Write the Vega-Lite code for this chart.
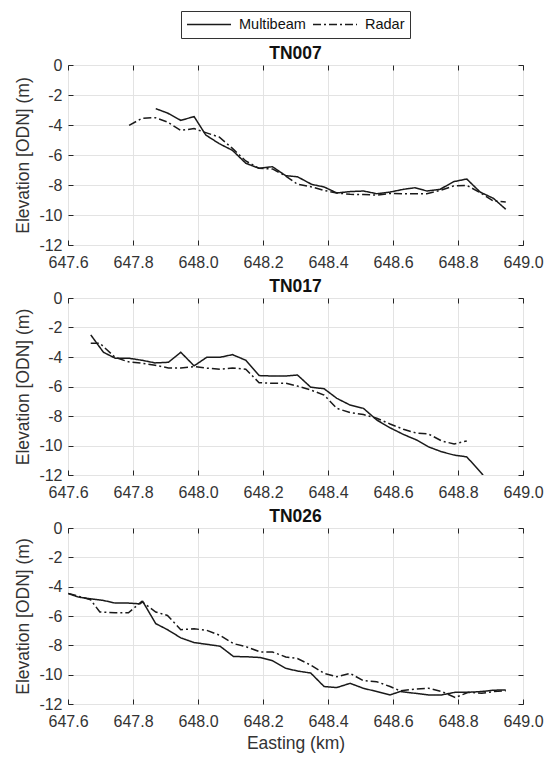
{
  "$schema": "https://vega.github.io/schema/vega-lite/v6.json",
  "padding": {"left": 14, "top": 10, "right": 10, "bottom": 1},
  "datasets": {
    "pts": [
      {"p":"TN007","s":"Multibeam","x":647.870,"y":-2.91},{"p":"TN007","s":"Multibeam","x":647.906,"y":-3.20},{"p":"TN007","s":"Multibeam","x":647.947,"y":-3.69},{"p":"TN007","s":"Multibeam","x":647.988,"y":-3.44},{"p":"TN007","s":"Multibeam","x":648.024,"y":-4.67},{"p":"TN007","s":"Multibeam","x":648.065,"y":-5.24},{"p":"TN007","s":"Multibeam","x":648.106,"y":-5.69},{"p":"TN007","s":"Multibeam","x":648.147,"y":-6.55},{"p":"TN007","s":"Multibeam","x":648.188,"y":-6.89},{"p":"TN007","s":"Multibeam","x":648.229,"y":-6.78},{"p":"TN007","s":"Multibeam","x":648.270,"y":-7.38},{"p":"TN007","s":"Multibeam","x":648.306,"y":-7.45},{"p":"TN007","s":"Multibeam","x":648.350,"y":-7.96},{"p":"TN007","s":"Multibeam","x":648.388,"y":-8.13},{"p":"TN007","s":"Multibeam","x":648.427,"y":-8.53},{"p":"TN007","s":"Multibeam","x":648.468,"y":-8.44},{"p":"TN007","s":"Multibeam","x":648.509,"y":-8.40},{"p":"TN007","s":"Multibeam","x":648.550,"y":-8.58},{"p":"TN007","s":"Multibeam","x":648.591,"y":-8.47},{"p":"TN007","s":"Multibeam","x":648.632,"y":-8.29},{"p":"TN007","s":"Multibeam","x":648.668,"y":-8.18},{"p":"TN007","s":"Multibeam","x":648.704,"y":-8.40},{"p":"TN007","s":"Multibeam","x":648.745,"y":-8.29},{"p":"TN007","s":"Multibeam","x":648.786,"y":-7.78},{"p":"TN007","s":"Multibeam","x":648.827,"y":-7.60},{"p":"TN007","s":"Multibeam","x":648.868,"y":-8.47},{"p":"TN007","s":"Multibeam","x":648.909,"y":-8.89},{"p":"TN007","s":"Multibeam","x":648.947,"y":-9.62},
      {"p":"TN007","s":"Radar","x":647.788,"y":-4.02},{"p":"TN007","s":"Radar","x":647.827,"y":-3.56},{"p":"TN007","s":"Radar","x":647.868,"y":-3.51},{"p":"TN007","s":"Radar","x":647.906,"y":-3.80},{"p":"TN007","s":"Radar","x":647.947,"y":-4.36},{"p":"TN007","s":"Radar","x":647.988,"y":-4.24},{"p":"TN007","s":"Radar","x":648.024,"y":-4.51},{"p":"TN007","s":"Radar","x":648.065,"y":-4.80},{"p":"TN007","s":"Radar","x":648.106,"y":-5.56},{"p":"TN007","s":"Radar","x":648.147,"y":-6.40},{"p":"TN007","s":"Radar","x":648.188,"y":-6.89},{"p":"TN007","s":"Radar","x":648.229,"y":-6.93},{"p":"TN007","s":"Radar","x":648.270,"y":-7.40},{"p":"TN007","s":"Radar","x":648.306,"y":-7.95},{"p":"TN007","s":"Radar","x":648.350,"y":-8.13},{"p":"TN007","s":"Radar","x":648.388,"y":-8.36},{"p":"TN007","s":"Radar","x":648.427,"y":-8.53},{"p":"TN007","s":"Radar","x":648.468,"y":-8.62},{"p":"TN007","s":"Radar","x":648.509,"y":-8.64},{"p":"TN007","s":"Radar","x":648.550,"y":-8.67},{"p":"TN007","s":"Radar","x":648.591,"y":-8.56},{"p":"TN007","s":"Radar","x":648.632,"y":-8.58},{"p":"TN007","s":"Radar","x":648.668,"y":-8.58},{"p":"TN007","s":"Radar","x":648.704,"y":-8.58},{"p":"TN007","s":"Radar","x":648.745,"y":-8.36},{"p":"TN007","s":"Radar","x":648.786,"y":-8.07},{"p":"TN007","s":"Radar","x":648.827,"y":-8.02},{"p":"TN007","s":"Radar","x":648.868,"y":-8.51},{"p":"TN007","s":"Radar","x":648.909,"y":-9.07},{"p":"TN007","s":"Radar","x":648.947,"y":-9.13},
      {"p":"TN017","s":"Multibeam","x":647.670,"y":-2.50},{"p":"TN017","s":"Multibeam","x":647.709,"y":-3.68},{"p":"TN017","s":"Multibeam","x":647.745,"y":-4.08},{"p":"TN017","s":"Multibeam","x":647.786,"y":-4.08},{"p":"TN017","s":"Multibeam","x":647.827,"y":-4.22},{"p":"TN017","s":"Multibeam","x":647.868,"y":-4.40},{"p":"TN017","s":"Multibeam","x":647.909,"y":-4.36},{"p":"TN017","s":"Multibeam","x":647.947,"y":-3.68},{"p":"TN017","s":"Multibeam","x":647.988,"y":-4.60},{"p":"TN017","s":"Multibeam","x":648.027,"y":-4.02},{"p":"TN017","s":"Multibeam","x":648.068,"y":-4.02},{"p":"TN017","s":"Multibeam","x":648.106,"y":-3.84},{"p":"TN017","s":"Multibeam","x":648.147,"y":-4.22},{"p":"TN017","s":"Multibeam","x":648.188,"y":-5.26},{"p":"TN017","s":"Multibeam","x":648.229,"y":-5.29},{"p":"TN017","s":"Multibeam","x":648.270,"y":-5.29},{"p":"TN017","s":"Multibeam","x":648.306,"y":-5.22},{"p":"TN017","s":"Multibeam","x":648.347,"y":-6.05},{"p":"TN017","s":"Multibeam","x":648.388,"y":-6.15},{"p":"TN017","s":"Multibeam","x":648.427,"y":-6.80},{"p":"TN017","s":"Multibeam","x":648.468,"y":-7.26},{"p":"TN017","s":"Multibeam","x":648.509,"y":-7.48},{"p":"TN017","s":"Multibeam","x":648.550,"y":-8.27},{"p":"TN017","s":"Multibeam","x":648.591,"y":-8.80},{"p":"TN017","s":"Multibeam","x":648.632,"y":-9.25},{"p":"TN017","s":"Multibeam","x":648.673,"y":-9.63},{"p":"TN017","s":"Multibeam","x":648.709,"y":-10.09},{"p":"TN017","s":"Multibeam","x":648.750,"y":-10.43},{"p":"TN017","s":"Multibeam","x":648.788,"y":-10.65},{"p":"TN017","s":"Multibeam","x":648.827,"y":-10.77},{"p":"TN017","s":"Multibeam","x":648.873,"y":-11.90},{"p":"TN017","s":"Multibeam","x":648.885,"y":-12.25},
      {"p":"TN017","s":"Radar","x":647.670,"y":-3.07},{"p":"TN017","s":"Radar","x":647.698,"y":-3.07},{"p":"TN017","s":"Radar","x":647.745,"y":-4.02},{"p":"TN017","s":"Radar","x":647.786,"y":-4.33},{"p":"TN017","s":"Radar","x":647.827,"y":-4.42},{"p":"TN017","s":"Radar","x":647.868,"y":-4.56},{"p":"TN017","s":"Radar","x":647.909,"y":-4.74},{"p":"TN017","s":"Radar","x":647.947,"y":-4.74},{"p":"TN017","s":"Radar","x":647.988,"y":-4.65},{"p":"TN017","s":"Radar","x":648.027,"y":-4.76},{"p":"TN017","s":"Radar","x":648.068,"y":-4.83},{"p":"TN017","s":"Radar","x":648.106,"y":-4.74},{"p":"TN017","s":"Radar","x":648.147,"y":-4.83},{"p":"TN017","s":"Radar","x":648.188,"y":-5.74},{"p":"TN017","s":"Radar","x":648.229,"y":-5.78},{"p":"TN017","s":"Radar","x":648.270,"y":-5.78},{"p":"TN017","s":"Radar","x":648.306,"y":-5.97},{"p":"TN017","s":"Radar","x":648.347,"y":-6.24},{"p":"TN017","s":"Radar","x":648.388,"y":-6.58},{"p":"TN017","s":"Radar","x":648.427,"y":-7.48},{"p":"TN017","s":"Radar","x":648.468,"y":-7.77},{"p":"TN017","s":"Radar","x":648.509,"y":-7.90},{"p":"TN017","s":"Radar","x":648.550,"y":-8.15},{"p":"TN017","s":"Radar","x":648.591,"y":-8.54},{"p":"TN017","s":"Radar","x":648.632,"y":-8.90},{"p":"TN017","s":"Radar","x":648.673,"y":-9.17},{"p":"TN017","s":"Radar","x":648.709,"y":-9.22},{"p":"TN017","s":"Radar","x":648.750,"y":-9.69},{"p":"TN017","s":"Radar","x":648.788,"y":-9.90},{"p":"TN017","s":"Radar","x":648.827,"y":-9.69},
      {"p":"TN026","s":"Multibeam","x":647.601,"y":-4.47},{"p":"TN026","s":"Multibeam","x":647.632,"y":-4.71},{"p":"TN026","s":"Multibeam","x":647.670,"y":-4.83},{"p":"TN026","s":"Multibeam","x":647.709,"y":-4.94},{"p":"TN026","s":"Multibeam","x":647.745,"y":-5.12},{"p":"TN026","s":"Multibeam","x":647.786,"y":-5.12},{"p":"TN026","s":"Multibeam","x":647.822,"y":-5.17},{"p":"TN026","s":"Multibeam","x":647.830,"y":-5.01},{"p":"TN026","s":"Multibeam","x":647.870,"y":-6.52},{"p":"TN026","s":"Multibeam","x":647.906,"y":-6.93},{"p":"TN026","s":"Multibeam","x":647.947,"y":-7.49},{"p":"TN026","s":"Multibeam","x":647.988,"y":-7.81},{"p":"TN026","s":"Multibeam","x":648.027,"y":-7.93},{"p":"TN026","s":"Multibeam","x":648.068,"y":-8.06},{"p":"TN026","s":"Multibeam","x":648.109,"y":-8.76},{"p":"TN026","s":"Multibeam","x":648.150,"y":-8.78},{"p":"TN026","s":"Multibeam","x":648.191,"y":-8.83},{"p":"TN026","s":"Multibeam","x":648.229,"y":-9.05},{"p":"TN026","s":"Multibeam","x":648.270,"y":-9.57},{"p":"TN026","s":"Multibeam","x":648.306,"y":-9.75},{"p":"TN026","s":"Multibeam","x":648.347,"y":-9.89},{"p":"TN026","s":"Multibeam","x":648.388,"y":-10.81},{"p":"TN026","s":"Multibeam","x":648.427,"y":-10.88},{"p":"TN026","s":"Multibeam","x":648.468,"y":-10.59},{"p":"TN026","s":"Multibeam","x":648.509,"y":-10.93},{"p":"TN026","s":"Multibeam","x":648.550,"y":-11.15},{"p":"TN026","s":"Multibeam","x":648.591,"y":-11.38},{"p":"TN026","s":"Multibeam","x":648.622,"y":-11.15},{"p":"TN026","s":"Multibeam","x":648.668,"y":-11.27},{"p":"TN026","s":"Multibeam","x":648.709,"y":-11.38},{"p":"TN026","s":"Multibeam","x":648.750,"y":-11.38},{"p":"TN026","s":"Multibeam","x":648.791,"y":-11.20},{"p":"TN026","s":"Multibeam","x":648.832,"y":-11.20},{"p":"TN026","s":"Multibeam","x":648.873,"y":-11.15},{"p":"TN026","s":"Multibeam","x":648.909,"y":-11.06},{"p":"TN026","s":"Multibeam","x":648.947,"y":-11.04},
      {"p":"TN026","s":"Radar","x":647.601,"y":-4.47},{"p":"TN026","s":"Radar","x":647.632,"y":-4.65},{"p":"TN026","s":"Radar","x":647.670,"y":-4.90},{"p":"TN026","s":"Radar","x":647.698,"y":-5.73},{"p":"TN026","s":"Radar","x":647.745,"y":-5.78},{"p":"TN026","s":"Radar","x":647.786,"y":-5.78},{"p":"TN026","s":"Radar","x":647.827,"y":-5.01},{"p":"TN026","s":"Radar","x":647.870,"y":-5.73},{"p":"TN026","s":"Radar","x":647.906,"y":-5.96},{"p":"TN026","s":"Radar","x":647.947,"y":-6.93},{"p":"TN026","s":"Radar","x":647.988,"y":-6.87},{"p":"TN026","s":"Radar","x":648.027,"y":-6.98},{"p":"TN026","s":"Radar","x":648.068,"y":-7.32},{"p":"TN026","s":"Radar","x":648.109,"y":-7.88},{"p":"TN026","s":"Radar","x":648.150,"y":-8.11},{"p":"TN026","s":"Radar","x":648.191,"y":-8.45},{"p":"TN026","s":"Radar","x":648.229,"y":-8.45},{"p":"TN026","s":"Radar","x":648.270,"y":-8.79},{"p":"TN026","s":"Radar","x":648.306,"y":-8.90},{"p":"TN026","s":"Radar","x":648.347,"y":-9.35},{"p":"TN026","s":"Radar","x":648.388,"y":-9.91},{"p":"TN026","s":"Radar","x":648.427,"y":-10.14},{"p":"TN026","s":"Radar","x":648.468,"y":-9.91},{"p":"TN026","s":"Radar","x":648.509,"y":-10.41},{"p":"TN026","s":"Radar","x":648.550,"y":-10.48},{"p":"TN026","s":"Radar","x":648.591,"y":-10.81},{"p":"TN026","s":"Radar","x":648.622,"y":-11.10},{"p":"TN026","s":"Radar","x":648.668,"y":-10.99},{"p":"TN026","s":"Radar","x":648.709,"y":-10.92},{"p":"TN026","s":"Radar","x":648.750,"y":-11.15},{"p":"TN026","s":"Radar","x":648.791,"y":-11.56},{"p":"TN026","s":"Radar","x":648.832,"y":-11.20},{"p":"TN026","s":"Radar","x":648.873,"y":-11.27},{"p":"TN026","s":"Radar","x":648.909,"y":-11.15},{"p":"TN026","s":"Radar","x":648.947,"y":-11.10}
    ]
  },
  "data": {"name": "pts"},
  "spacing": 6,
  "vconcat": [
    {
      "title": "TN007",
      "width": 455, "height": 180,
      "transform": [{"filter": "datum.p == 'TN007'"}],
      "layer": [
        {"mark": {"type": "line", "color": "#1a1a1a", "strokeWidth": 1.5, "clip": true},
         "encoding": {
           "x": {"field": "x", "type": "quantitative", "scale": {"domain": [647.6, 649.0], "nice": false, "zero": false},
                 "axis": {"orient": "bottom", "values": [647.6, 647.8, 648.0, 648.2, 648.4, 648.6, 648.8, 649.0], "format": ".1f", "title": null, "labelFlush": false, "labelOverlap": false, "labelPadding": 14}},
           "y": {"field": "y", "type": "quantitative", "scale": {"domain": [-12, 0], "nice": false, "zero": false},
                 "axis": {"orient": "left", "values": [-12, -10, -8, -6, -4, -2, 0], "labelExpr": "toString(datum.value)", "title": "Elevation [ODN] (m)", "titlePadding": 6, "labelPadding": 11}},
           "strokeDash": {"field": "s", "type": "nominal", "scale": {"domain": ["Multibeam", "Radar"], "range": [[1, 0], [8, 3, 2, 3]]},
                 "legend": {"orient": "none", "legendX": 113, "legendY": -54, "direction": "horizontal", "title": null}}
         }},
        {"mark": {"type": "line", "opacity": 0},
         "encoding": {
           "x": {"field": "x", "type": "quantitative", "scale": {"domain": [647.6, 649.0], "nice": false, "zero": false},
                 "axis": {"orient": "top", "values": [647.6, 647.8, 648.0, 648.2, 648.4, 648.6, 648.8, 649.0], "labels": false, "grid": false, "title": null}},
           "y": {"field": "y", "type": "quantitative", "scale": {"domain": [-12, 0], "nice": false, "zero": false},
                 "axis": {"orient": "right", "values": [-12, -10, -8, -6, -4, -2, 0], "labels": false, "grid": false, "title": null}},
           "detail": {"field": "s"}
         }}
      ],
      "resolve": {"axis": {"x": "independent", "y": "independent"}}
    },
    {
      "title": "TN017",
      "width": 455, "height": 177,
      "transform": [{"filter": "datum.p == 'TN017'"}],
      "layer": [
        {"mark": {"type": "line", "color": "#1a1a1a", "strokeWidth": 1.5, "clip": true},
         "encoding": {
           "x": {"field": "x", "type": "quantitative", "scale": {"domain": [647.6, 649.0], "nice": false, "zero": false},
                 "axis": {"orient": "bottom", "values": [647.6, 647.8, 648.0, 648.2, 648.4, 648.6, 648.8, 649.0], "format": ".1f", "title": null, "labelFlush": false, "labelOverlap": false, "labelPadding": 14}},
           "y": {"field": "y", "type": "quantitative", "scale": {"domain": [-12, 0], "nice": false, "zero": false},
                 "axis": {"orient": "left", "values": [-12, -10, -8, -6, -4, -2, 0], "labelExpr": "toString(datum.value)", "title": "Elevation [ODN] (m)", "titlePadding": 6, "labelPadding": 11}},
           "strokeDash": {"field": "s", "type": "nominal", "scale": {"domain": ["Multibeam", "Radar"], "range": [[1, 0], [8, 3, 2, 3]]},
                 "legend": {"orient": "none", "legendX": 113, "legendY": -54, "direction": "horizontal", "title": null}}
         }},
        {"mark": {"type": "line", "opacity": 0},
         "encoding": {
           "x": {"field": "x", "type": "quantitative", "scale": {"domain": [647.6, 649.0], "nice": false, "zero": false},
                 "axis": {"orient": "top", "values": [647.6, 647.8, 648.0, 648.2, 648.4, 648.6, 648.8, 649.0], "labels": false, "grid": false, "title": null}},
           "y": {"field": "y", "type": "quantitative", "scale": {"domain": [-12, 0], "nice": false, "zero": false},
                 "axis": {"orient": "right", "values": [-12, -10, -8, -6, -4, -2, 0], "labels": false, "grid": false, "title": null}},
           "detail": {"field": "s"}
         }}
      ],
      "resolve": {"axis": {"x": "independent", "y": "independent"}}
    },
    {
      "title": "TN026",
      "width": 455, "height": 176,
      "transform": [{"filter": "datum.p == 'TN026'"}],
      "layer": [
        {"mark": {"type": "line", "color": "#1a1a1a", "strokeWidth": 1.5, "clip": true},
         "encoding": {
           "x": {"field": "x", "type": "quantitative", "scale": {"domain": [647.6, 649.0], "nice": false, "zero": false},
                 "axis": {"orient": "bottom", "values": [647.6, 647.8, 648.0, 648.2, 648.4, 648.6, 648.8, 649.0], "format": ".1f", "title": "Easting (km)", "titlePadding": 5, "labelFlush": false, "labelOverlap": false, "labelPadding": 14}},
           "y": {"field": "y", "type": "quantitative", "scale": {"domain": [-12, 0], "nice": false, "zero": false},
                 "axis": {"orient": "left", "values": [-12, -10, -8, -6, -4, -2, 0], "labelExpr": "toString(datum.value)", "title": "Elevation [ODN] (m)", "titlePadding": 6, "labelPadding": 11}},
           "strokeDash": {"field": "s", "type": "nominal", "scale": {"domain": ["Multibeam", "Radar"], "range": [[1, 0], [8, 3, 2, 3]]},
                 "legend": {"orient": "none", "legendX": 113, "legendY": -54, "direction": "horizontal", "title": null}}
         }},
        {"mark": {"type": "line", "opacity": 0},
         "encoding": {
           "x": {"field": "x", "type": "quantitative", "scale": {"domain": [647.6, 649.0], "nice": false, "zero": false},
                 "axis": {"orient": "top", "values": [647.6, 647.8, 648.0, 648.2, 648.4, 648.6, 648.8, 649.0], "labels": false, "grid": false, "title": null}},
           "y": {"field": "y", "type": "quantitative", "scale": {"domain": [-12, 0], "nice": false, "zero": false},
                 "axis": {"orient": "right", "values": [-12, -10, -8, -6, -4, -2, 0], "labels": false, "grid": false, "title": null}},
           "detail": {"field": "s"}
         }}
      ],
      "resolve": {"axis": {"x": "independent", "y": "independent"}}
    }
  ],
  "config": {
    "background": "white",
    "view": {"stroke": "#262626", "strokeWidth": 1},
    "axis": {
      "labelFont": "Liberation Sans", "labelFontSize": 16, "labelColor": "#333333",
      "titleFont": "Liberation Sans", "titleFontSize": 17.5, "titleFontWeight": "normal", "titleColor": "#333333",
      "domain": false, "tickColor": "#262626", "tickSize": -5,
      "gridColor": "#e3e3e3", "gridWidth": 1
    },
    "title": {"font": "Liberation Sans", "fontSize": 17.5, "fontWeight": "bold", "color": "#111111", "offset": -5},
    "legend": {
      "strokeColor": "#333333", "fillColor": "white", "padding": 5,
      "labelFont": "Liberation Sans", "labelFontSize": 14.5, "labelColor": "#111111",
      "symbolType": "stroke", "symbolSize": 1936, "symbolStrokeWidth": 1.5, "symbolStrokeColor": "#1a1a1a",
      "clipHeight": 17,
      "labelOffset": 7, "columnPadding": 6
    }
  }
}
